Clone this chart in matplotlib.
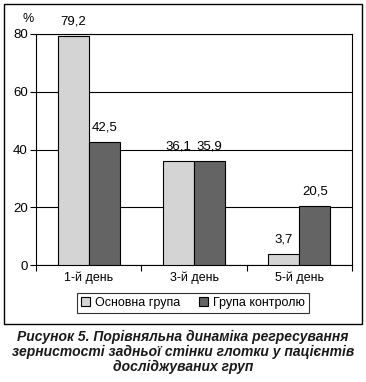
import matplotlib.pyplot as plt
import matplotlib.patches as patches
import numpy as np

plt.rcParams['font.family'] = ['Liberation Sans', 'DejaVu Sans']

days = ['1-й день', '3-й день', '5-й день']
main_group = [79.2, 36.1, 3.7]
control_group = [42.5, 35.9, 20.5]
series_names = ['Основна група', 'Група контролю']
labels_main = ['79,2', '36,1', '3,7']
labels_control = ['42,5', '35,9', '20,5']

fig = plt.figure(figsize=(3.66, 3.82), dpi=100)
ax = fig.add_axes([36 / 366, 117 / 382, 316 / 366, 231 / 382])

x = np.arange(len(days))
w = 0.295
b1 = ax.bar(x - w / 2, main_group, w, color='#d4d4d4', edgecolor='black', linewidth=0.8,
            label=series_names[0], zorder=3)
b2 = ax.bar(x + w / 2, control_group, w, color='#646464', edgecolor='black', linewidth=0.8,
            label=series_names[1], zorder=3)

for bars, labs in [(b1, labels_main), (b2, labels_control)]:
    for bar, lab in zip(bars, labs):
        ax.text(bar.get_x() + bar.get_width() / 2, bar.get_height() + 3, lab,
                ha='center', va='bottom', fontsize=9.5, clip_on=False)

ax.set_ylim(0, 80)
ax.set_xlim(-0.5, 2.5)
ax.set_yticks([0, 20, 40, 60, 80])
ax.set_yticklabels(['0', '20', '40', '60', '80'], fontsize=9.5)
ax.set_xticks([-0.5, 0.5, 1.5, 2.5])
ax.set_xticklabels([])
ax.set_xticks(x, minor=True)
ax.set_xticklabels(days, minor=True, fontsize=9)
ax.tick_params(axis='x', which='minor', length=0, pad=5)
ax.tick_params(axis='x', which='major', length=4, direction='out', width=0.8)
ax.tick_params(axis='y', length=4, direction='out', width=0.8, pad=2)
ax.yaxis.grid(True, color='black', linewidth=0.8, zorder=0)
for s in ax.spines.values():
    s.set_linewidth(0.8)

fig.text(28 / 366, 1 - 19 / 382, '%', ha='center', va='center', fontsize=9)

fig.legend(handles=[b1, b2], loc='center', bbox_to_anchor=(193 / 366, 1 - 303 / 382),
           ncol=2, frameon=True, fancybox=False, edgecolor='black', fontsize=9,
           handlelength=0.7, handleheight=0.7, columnspacing=1.5, handletextpad=0.4,
           borderpad=0.35).get_frame().set_linewidth(0.8)

fig.patches.append(patches.Rectangle((4 / 366, 58 / 382), 358 / 366, 320 / 382,
                                     transform=fig.transFigure, fill=False,
                                     edgecolor='black', linewidth=1.0))

fig.text(0.5, 1 - 352 / 382,
         'Рисунок 5. Порівняльна динаміка регресування\n'
         'зернистості задньої стінки глотки у пацієнтів\n'
         'досліджуваних груп',
         ha='center', va='center', fontsize=10, fontweight='bold', fontstyle='italic',
         linespacing=1.05, color='#1a1a1a')

fig.savefig('out.png', dpi=100)
